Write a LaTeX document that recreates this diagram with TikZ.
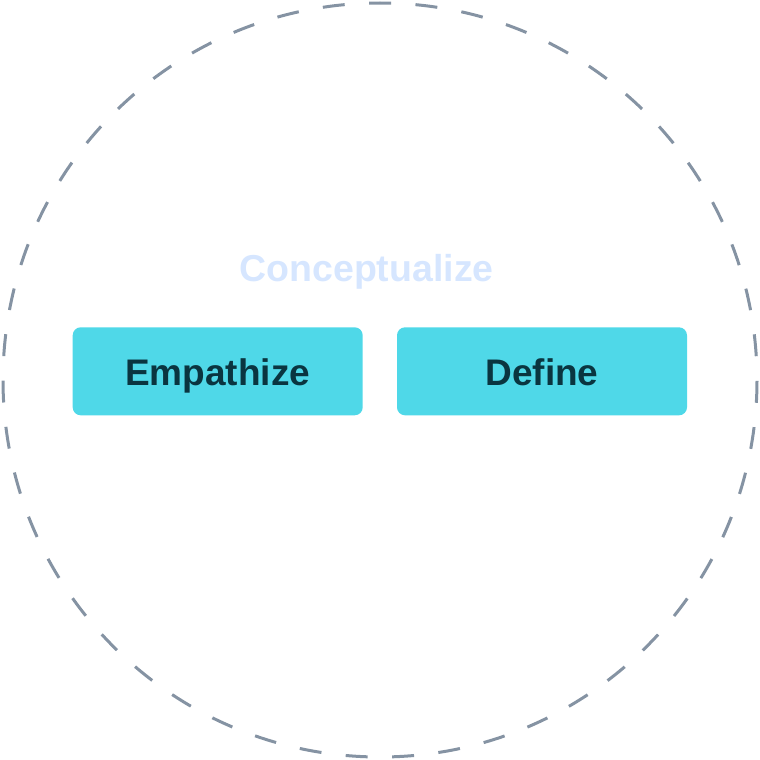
\documentclass[tikz,border=0pt]{standalone}
\usepackage{fontspec}
\setmainfont{Liberation Sans}
\definecolor{ringgray}{HTML}{8593A3}
\definecolor{boxcyan}{HTML}{4FD8E8}
\definecolor{boxtext}{HTML}{0A3540}
\definecolor{phaseblue}{HTML}{D6E6FF}
\tikzset{
  stagebox/.style={rectangle, rounded corners=8pt, fill=boxcyan, minimum width=290pt,
    minimum height=88pt, inner sep=0pt, text height=28.8pt, text depth=0pt,
    text=boxtext, font=\fontsize{37}{44}\selectfont\bfseries},
}

\begin{document}
\begin{tikzpicture}[x=1pt, y=-1pt]
  \useasboundingbox (0,0) rectangle (760,760);
  % draw dashed ring round the phase
  \draw[ringgray, line width=3pt, dash pattern=on 22pt off 24.45pt, dash phase=22.65pt] (380,380) circle (377pt);
  % draw phase title
  \node[text=phaseblue, font=\fontsize{37.5}{45}\selectfont\bfseries, anchor=base] (phase_title) at (366.5,281) {Conceptualize};
  % draw stage boxes
  \node[stagebox] (stage_empathize) at (217.7,371.3) {Empathize};
  \node[stagebox] (stage_define) at (542,371.3) {Define};
\end{tikzpicture}
\end{document}
